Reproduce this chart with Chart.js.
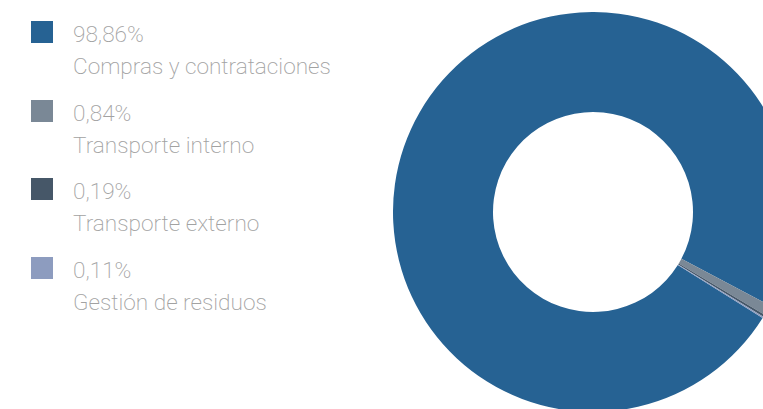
<!DOCTYPE html>
<html>
<head>
<meta charset="utf-8">
<script src="https://cdn.jsdelivr.net/npm/chart.js@4"></script>
<style>
  html, body { margin: 0; padding: 0; background: #fff; overflow: hidden; }
  body { width: 763px; height: 409px; position: relative; font-family: Roboto, "Noto Sans", sans-serif; }
  #leyenda .item { position: absolute; left: 31px; }
  #leyenda .cuadro { position: absolute; left: 0; top: 0; width: 22px; height: 22px; }
  #leyenda .texto { position: absolute; left: 42px; top: -2px; white-space: nowrap;
    font-size: 22.6px; line-height: 32px; font-weight: 200; color: #a2a2a2; }
  #wrap { position: absolute; left: 393px; top: 12px; width: 400px; height: 400px; }
</style>
</head>
<body>
<div id="leyenda"></div>
<div id="wrap"><canvas id="myChart" width="400" height="400"></canvas></div>
<script>
const categorias = ["Compras y contrataciones", "Transporte interno", "Transporte externo", "Gestión de residuos"];
const porcentajes = [98.86, 0.84, 0.19, 0.11];
const etiquetas = ["98,86%", "0,84%", "0,19%", "0,11%"];
const colores = ["#266293", "#7a8896", "#465768", "#8d9cbf"];

document.addEventListener("DOMContentLoaded", function () {
  // leyenda a mano, dos lineas por categoria
  const leyenda = document.getElementById("leyenda");
  categorias.forEach(function (nombre, i) {
    const item = document.createElement("div");
    item.className = "item";
    item.style.top = (21 + i * 78.7) + "px";
    item.innerHTML = '<div class="cuadro" style="background:' + colores[i] + '"></div>' +
      '<div class="texto">' + etiquetas[i] + '<br>' + nombre + '</div>';
    leyenda.appendChild(item);
  });

  const ctx = document.getElementById("myChart").getContext("2d");
  const myChart = new Chart(ctx, {
    type: "doughnut",
    data: {
      labels: categorias,
      datasets: [
        {
          data: porcentajes,
          backgroundColor: colores,
          borderWidth: 0,
        },
      ],
    },
    options: {
      responsive: false,
      animation: false,
      cutout: "50%",
      rotation: 122,
      layout: { padding: 0 },
      plugins: {
        legend: { display: false },
        tooltip: { enabled: false },
      },
    },
  });
});
</script>
</body>
</html>
